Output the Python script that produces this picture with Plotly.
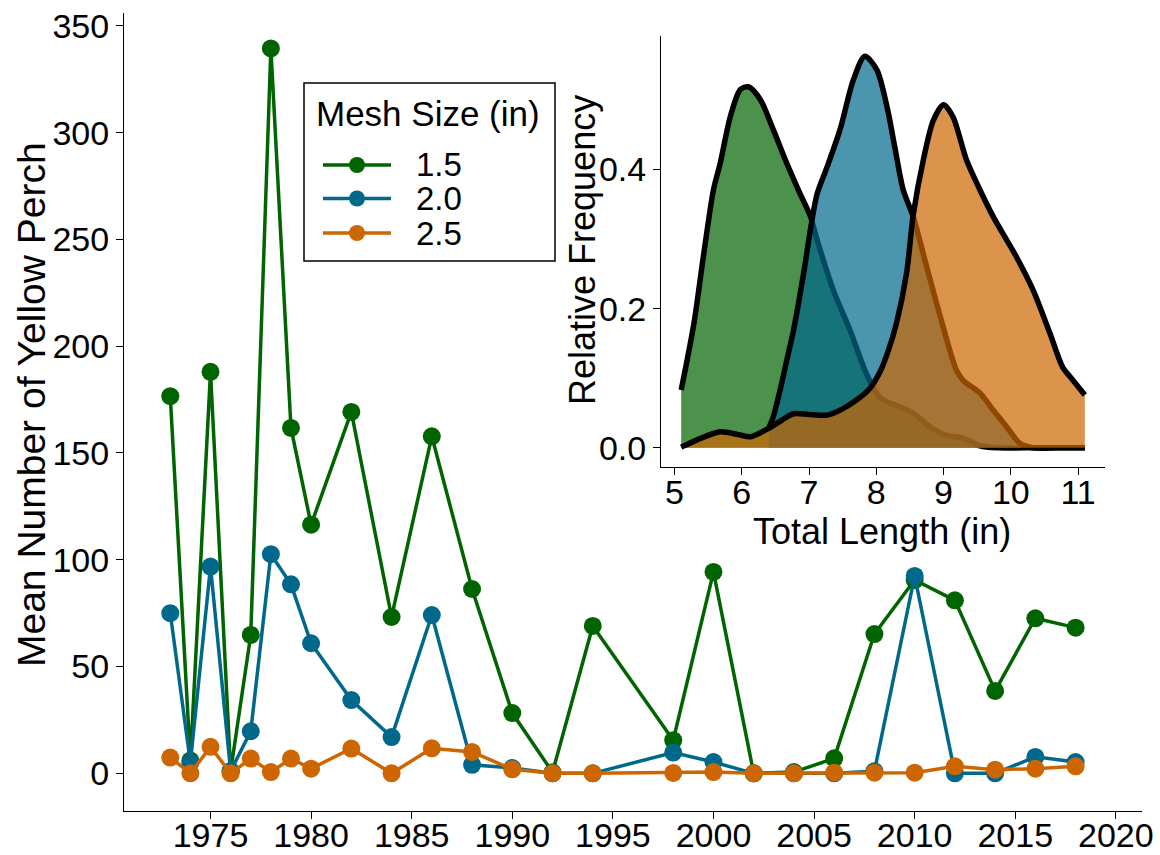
import plotly.graph_objects as go

# ---------------- data: main panel ----------------
years = [1973, 1974, 1975, 1976, 1977, 1978, 1979, 1980, 1982, 1984, 1986, 1988, 1990,
         1992, 1994, 1998, 2000, 2002, 2004, 2006, 2008, 2010, 2012, 2014, 2016, 2018]
mesh_sizes = ["1.5", "2.0", "2.5"]
mean_mesh_15 = [176.6, 6, 188, 1, 64.8, 339.4, 161.7, 116.4, 169.2, 73.2, 157.8, 86.3, 28.2,
                0.5, 69, 15.5, 94.3, 0, 0.6, 7, 65.2, 90.5, 81, 38.6, 72.6, 68.2]
mean_mesh_20 = [75, 5, 96.8, 1, 19.7, 102.6, 88.5, 60.9, 34.3, 17, 74.1, 4, 2.5,
                0, 0, 9.7, 5.3, 0, 0, 0, 1, 92.4, 0, 0, 7.7, 5.3]
mean_mesh_25 = [7.4, 0, 12.4, 0, 6.9, 0.6, 6.9, 2.2, 11.6, 0, 11.7, 10, 1.9,
                0, 0, 0.2, 0.6, 0, 0, 0.3, 0.3, 0.3, 3.3, 1.7, 2.2, 3.3]
x_ticks_main = [1975, 1980, 1985, 1990, 1995, 2000, 2005, 2010, 2015, 2020]
y_ticks_main = [0, 50, 100, 150, 200, 250, 300, 350]

# ---------------- data: inset densities ----------------
len_15 = [5.10, 5.16, 5.29, 5.43, 5.58, 5.68, 5.83, 5.98, 6.10, 6.28, 6.47, 6.67, 6.85, 7.02,
          7.12, 7.36, 7.61, 7.86, 8.06, 8.35, 8.55, 8.80, 9.05, 9.29, 9.54, 9.80, 10.2, 10.6, 11.1]
dens_15 = [0.083, 0.112, 0.179, 0.275, 0.371, 0.409, 0.476, 0.515, 0.519, 0.500, 0.457, 0.409,
           0.369, 0.333, 0.299, 0.227, 0.169, 0.105, 0.072, 0.059, 0.050, 0.030, 0.018, 0.014,
           0.003, 0.0, 0.0, 0.0, 0.0]
len_20 = [6.40, 6.47, 6.57, 6.67, 6.77, 6.92, 7.04, 7.12, 7.27, 7.46, 7.66, 7.83, 8.01, 8.16,
          8.28, 8.40, 8.55, 8.75, 8.95, 9.19, 9.29, 9.54, 9.74, 9.94, 10.13, 10.33, 10.7, 11.1]
dens_20 = [0.028, 0.045, 0.083, 0.126, 0.169, 0.251, 0.325, 0.365, 0.404, 0.457, 0.529, 0.563,
           0.543, 0.490, 0.430, 0.371, 0.332, 0.260, 0.189, 0.112, 0.097, 0.079, 0.054, 0.030,
           0.007, 0.0, 0.0, 0.0]
len_25 = [5.10, 5.40, 5.68, 5.95, 6.13, 6.40, 6.60, 6.77, 7.00, 7.27, 7.50, 7.71, 7.90, 8.06,
          8.18, 8.30, 8.45, 8.55, 8.70, 8.85, 9.00, 9.14, 9.34, 9.54, 9.74, 10.08, 10.33, 10.58,
          10.77, 10.90, 11.10]
dens_25 = [0.001, 0.014, 0.023, 0.019, 0.016, 0.028, 0.040, 0.049, 0.048, 0.047, 0.056, 0.069,
           0.085, 0.110, 0.140, 0.179, 0.251, 0.335, 0.414, 0.471, 0.493, 0.476, 0.414, 0.371,
           0.332, 0.275, 0.227, 0.165, 0.116, 0.100, 0.076]
x_ticks_inset = [5, 6, 7, 8, 9, 10, 11]
y_ticks_inset = [0.0, 0.2, 0.4]

colors = ["#006400", "#00688B", "#CD6600"]
fills = ["rgba(0,100,0,0.7)", "rgba(0,104,139,0.7)", "rgba(205,102,0,0.7)"]

W, H = 1160, 855
FONT = "Liberation Sans, Arial, sans-serif"


def px(x):
    return x / W


def py(y):
    return 1 - y / H


fig = go.Figure()

# main lines
for name, vals, col in zip(mesh_sizes, [mean_mesh_15, mean_mesh_20, mean_mesh_25], colors):
    fig.add_trace(go.Scatter(
        x=years, y=vals, name=name, mode="lines+markers",
        line=dict(color=col, width=3.5),
        marker=dict(color=col, size=18),
        xaxis="x", yaxis="y", showlegend=False,
    ))

# inset densities
for lens, dens, fc in zip([len_15, len_20, len_25], [dens_15, dens_20, dens_25], fills):
    fig.add_trace(go.Scatter(
        x=lens, y=dens, mode="lines", fill="tozeroy", fillcolor=fc,
        line=dict(color="black", width=5.5, shape="spline", smoothing=0.8),
        xaxis="x2", yaxis="y2", showlegend=False, hoverinfo="skip",
    ))

axis_common = dict(
    showline=True, linecolor="black", linewidth=1, ticks="outside", ticklen=7,
    tickcolor="black", tickwidth=1, showgrid=False, zeroline=False,
    automargin=False,
)
tick_font = dict(family=FONT, size=34, color="black")

fig.update_layout(
    width=W, height=H,
    margin=dict(l=0, r=0, t=0, b=0),
    paper_bgcolor="white", plot_bgcolor="rgba(0,0,0,0)",
    showlegend=False,
    xaxis=dict(domain=[px(124), px(1142)], range=[1970.7, 2021.3], tickvals=x_ticks_main,
               anchor="y", ticklabelstandoff=-13,
               tickfont=dict(family=FONT, size=34, color="black"), **axis_common),
    yaxis=dict(domain=[py(810.7), py(13)], range=[-17.5, 356], tickvals=y_ticks_main,
               anchor="x", tickfont=tick_font, **axis_common),
    xaxis2=dict(domain=[px(661), px(1105)], range=[4.8, 11.4], tickvals=x_ticks_inset,
                anchor="y2", ticklabelstandoff=-12, tickfont=tick_font, **axis_common),
    yaxis2=dict(domain=[py(467.3), py(36)], range=[-0.028, 0.592], tickvals=y_ticks_inset,
                tickformat=".1f", anchor="x2", tickfont=tick_font, **axis_common),
)

title_font = dict(family=FONT, size=36, color="black")
fig.add_annotation(text="Mean Number of Yellow Perch", x=px(32), y=py(405), xref="paper",
                   yref="paper", textangle=-90, showarrow=False,
                   font=dict(family=FONT, size=39, color="black"),
                   xanchor="center", yanchor="middle")
fig.add_annotation(text="Relative Frequency", x=px(582), y=py(250), xref="paper",
                   yref="paper", textangle=-90, showarrow=False, font=title_font,
                   xanchor="center", yanchor="middle")
fig.add_annotation(text="Total Length (in)", x=px(882), y=py(531), xref="paper",
                   yref="paper", showarrow=False, font=title_font,
                   xanchor="center", yanchor="middle")

# custom legend
fig.add_shape(type="rect", xref="paper", yref="paper", x0=px(304), x1=px(555),
              y0=py(261), y1=py(83), line=dict(color="black", width=1.5),
              fillcolor="white", layer="above")
fig.add_annotation(text="Mesh Size (in)", x=px(314), y=py(114), xref="paper", yref="paper",
                   showarrow=False, font=dict(family=FONT, size=35, color="black"),
                   xanchor="left", yanchor="middle")
legend_rows = [165, 198.5, 233]
for name, col, ry in zip(mesh_sizes, colors, legend_rows):
    fig.add_shape(type="line", xref="paper", yref="paper", x0=px(323), x1=px(391),
                  y0=py(ry), y1=py(ry), line=dict(color=col, width=3.5), layer="above")
    fig.add_shape(type="circle", xref="paper", yref="paper", xsizemode="pixel",
                  ysizemode="pixel", xanchor=px(357), yanchor=py(ry), x0=-8, x1=8, y0=-8, y1=8,
                  fillcolor=col, line=dict(color=col, width=0), layer="above")
    fig.add_annotation(text=name, x=px(414), y=py(ry), xref="paper", yref="paper",
                       showarrow=False, font=dict(family=FONT, size=33, color="black"),
                       height=33, valign="middle",
                       xanchor="left", yanchor="middle")

fig.write_html("out.html", config={"displayModeBar": False},
               post_script="document.body.style.margin='0';document.body.style.overflow='hidden';")
